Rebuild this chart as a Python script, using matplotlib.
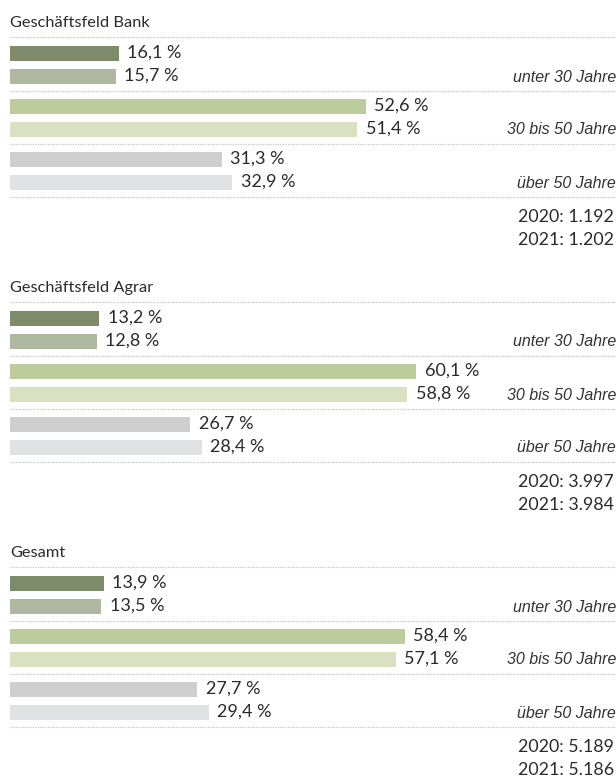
import matplotlib
matplotlib.use("Agg")
import matplotlib.pyplot as plt
from matplotlib.transforms import blended_transform_factory

# data
sections = ["Geschäftsfeld Bank", "Geschäftsfeld Agrar", "Gesamt"]
age_groups = ["unter 30 Jahre", "30 bis 50 Jahre", "über 50 Jahre"]
bank_2020 = [16.1, 52.6, 31.3]
bank_2021 = [15.7, 51.4, 32.9]
agrar_2020 = [13.2, 60.1, 26.7]
agrar_2021 = [12.8, 58.8, 28.4]
gesamt_2020 = [13.9, 58.4, 27.7]
gesamt_2021 = [13.5, 57.1, 29.4]
totals_2020 = ["1.192", "3.997", "5.189"]
totals_2021 = ["1.202", "3.984", "5.186"]

values_2020 = [bank_2020, agrar_2020, gesamt_2020]
values_2021 = [bank_2021, agrar_2021, gesamt_2021]

colors_2020 = ["#7d8b6a", "#bccc9c", "#cfcfd0"]
colors_2021 = ["#aeb8a0", "#d8e2c2", "#e1e2e3"]

W, H = 616, 781
X0, PX_PER_PCT = 10, 6.76
SECTION_STEP = 265
GROUP_STEP = 53
PAIR_STEP = 23
BAR_H = 15

fig = plt.figure(figsize=(W / 100, H / 100), dpi=100)
ax = fig.add_axes([0, 0, 1, 1])
ax.set_xlim(-X0 / PX_PER_PCT, (W - X0) / PX_PER_PCT)
ax.set_ylim(H, 0)
ax.axis("off")

right = blended_transform_factory(ax.transAxes, ax.transData)
num_font = "Lato"
txt_col = "#2b2b2b"
line_col = "#c4c4c4"

def sep(y):
    ax.plot([0.016, 1.0], [y, y], transform=right, color=line_col,
            lw=0.9, ls=(0, (1, 1)))

def pct(v):
    return f"{v:.1f}".replace(".", ",") + " %"

for s, name in enumerate(sections):
    top = s * SECTION_STEP
    ax.text(0.016, top + 23, name, transform=right, fontsize=11.8,
            family=num_font, color=txt_col, va="center", ha="left")
    sep(top + 37)
    for g, grp in enumerate(age_groups):
        y1 = top + 53 + g * GROUP_STEP
        y2 = y1 + PAIR_STEP
        v1 = values_2020[s][g]
        v2 = values_2021[s][g]
        ax.barh(y1, v1, height=BAR_H, color=colors_2020[g], left=0)
        ax.barh(y2, v2, height=BAR_H, color=colors_2021[g], left=0)
        for y, v in ((y1, v1), (y2, v2)):
            ax.annotate(pct(v), (v, y), xytext=(6, 0), textcoords="offset points",
                        va="center", ha="left", fontsize=13,
                        family=num_font, color=txt_col)
        ax.text(1.0, y2 + 1, grp, transform=right, ha="right", va="center",
                fontsize=11.5, style="italic", family="Liberation Sans",
                color="#333333")
        sep(y2 + 15)
    ax.text(0.997, top + 217, f"2020: {totals_2020[s]}", transform=right,
            ha="right", va="center", fontsize=12.8, family=num_font, color=txt_col)
    ax.text(0.997, top + 240, f"2021: {totals_2021[s]}", transform=right,
            ha="right", va="center", fontsize=12.8, family=num_font, color=txt_col)

fig.savefig("out.png", dpi=100, facecolor="white")
